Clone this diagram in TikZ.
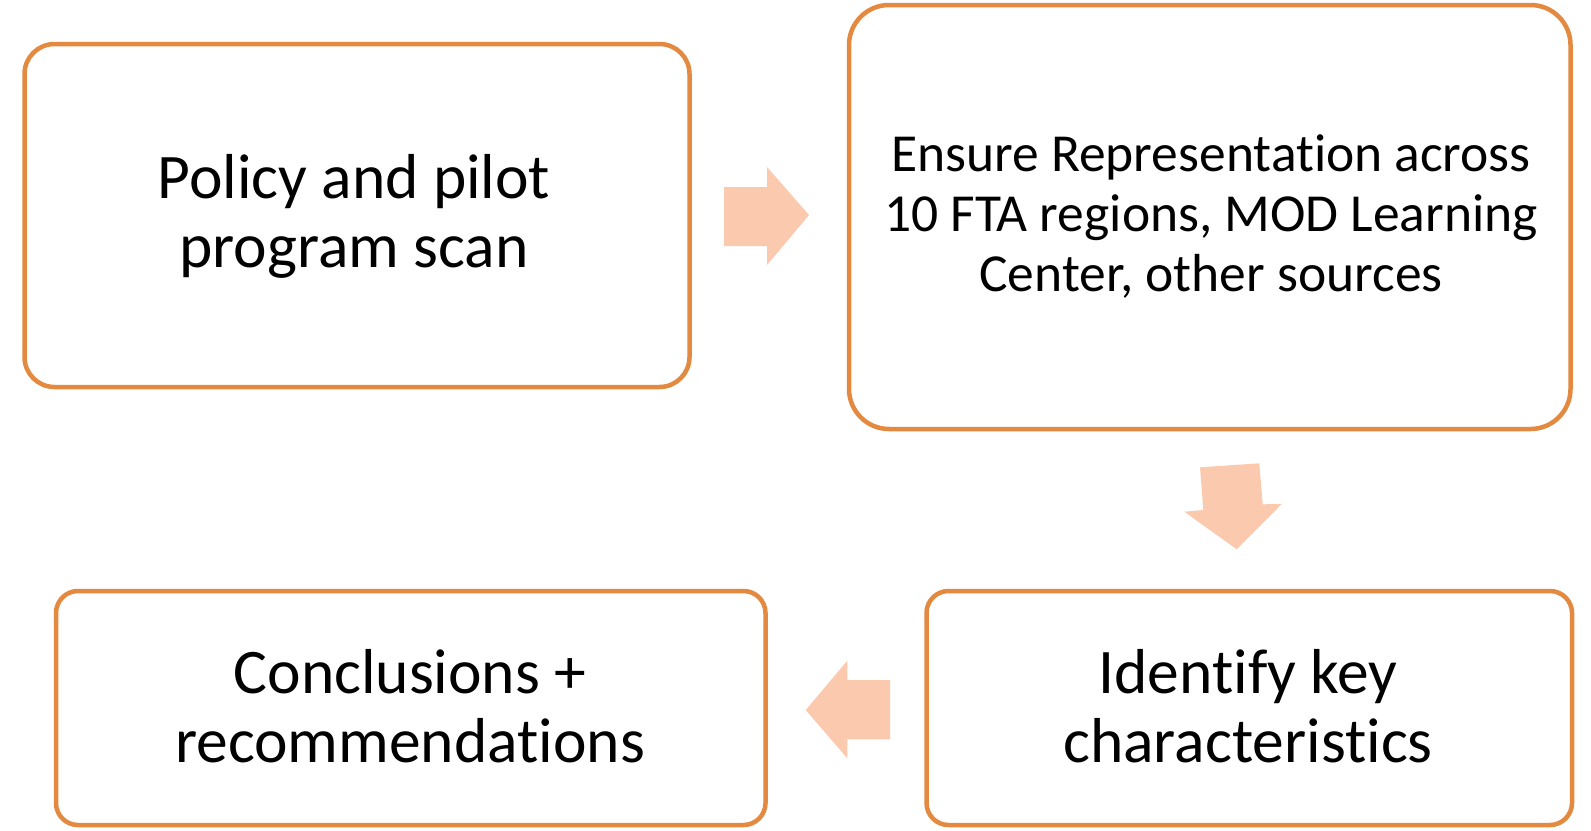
\documentclass[tikz,border=0pt]{standalone}
\usepackage{fontspec}
\setmainfont{Carlito}[Ligatures={NoCommon}]
\definecolor{boxline}{RGB}{227,137,64}
\definecolor{flowfill}{RGB}{251,201,174}
\newcommand{\steplines}[1]{\begin{tabular}[t]{@{}c@{}}#1\end{tabular}}
\begin{document}
\begin{tikzpicture}[x=1bp,y=-1bp,
  stepbox/.style={draw=boxline,line width=4.5bp,fill=white},
  flowarrow/.style={fill=flowfill,draw=none},
  bigtext/.style={anchor=base,inner sep=0pt,font=\fontsize{63.5bp}{69bp}\selectfont},
  smalltext/.style={anchor=base,inner sep=0pt,font=\fontsize{53.5bp}{60bp}\selectfont}]
\useasboundingbox (0,0) rectangle (1591,830);

% process boxes
\draw[stepbox,rounded corners=30bp] (24.5,44) rectangle (689.5,387);
\draw[stepbox,rounded corners=40bp] (849,5) rectangle (1570.5,429);
\draw[stepbox,rounded corners=22bp] (926.5,591) rectangle (1572,825);
\draw[stepbox,rounded corners=22bp] (56,591) rectangle (765.5,825);

% box labels, placed by the baseline of their first line
\node[bigtext] (scan) at (354,198) {\steplines{Policy and pilot\\program scan}};
\node[smalltext] (repr) at (1211,171.5) {\steplines{Ensure Representation across\\10 FTA regions, MOD Learning\\Center, other sources}};
\node[bigtext] (chars) at (1248,693.5) {\steplines{Identify key\\characteristics}};
\node[bigtext] (concl) at (410,693.5) {\steplines{Conclusions +\\recommendations}};

% block arrows between the steps
\fill[flowarrow] (724,187) -- (767,187) -- (767,167) -- (809,215) -- (767,265) -- (767,246) -- (724,246) -- cycle;
\fill[flowarrow] (1200,467.3) -- (1259.3,463.3) -- (1262.7,504.3) -- (1281.7,504) -- (1236.7,549.3) -- (1184.3,511.7) -- (1203.3,510) -- cycle;
\fill[flowarrow] (890,680) -- (847.3,680) -- (847.3,660.7) -- (805.7,710) -- (847.3,758.3) -- (847.3,739.3) -- (890,739.3) -- cycle;
\end{tikzpicture}
\end{document}
